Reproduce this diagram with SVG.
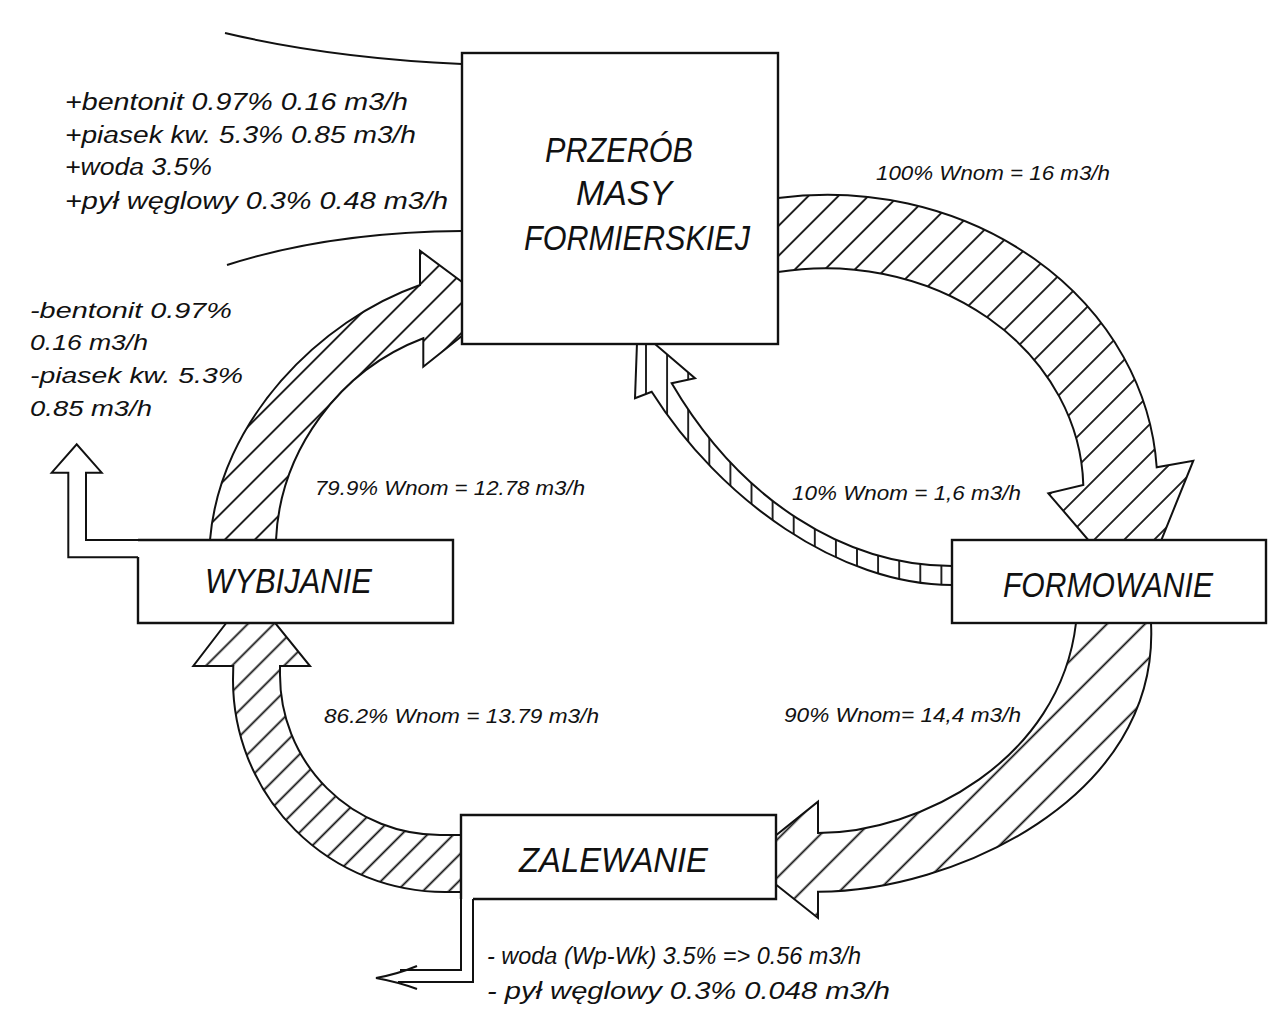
<svg xmlns="http://www.w3.org/2000/svg" width="1278" height="1024" viewBox="0 0 1278 1024">
<style>
  .ln{fill:none;stroke:#111;stroke-width:2;stroke-linejoin:miter}
  .arr{stroke:#111;stroke-width:2;stroke-linejoin:miter}
  .box{fill:#fff;stroke:#111;stroke-width:2.4;stroke-linejoin:miter}
  .hl{stroke:#111;stroke-width:1.8}
  text{font-family:"Liberation Sans",Arial,sans-serif;font-style:italic;fill:#111}
  .node{font-size:35px}
  .lst{font-size:23px}
  .lst2{font-size:22px}
  .lbl{font-size:19.5px}
</style>
<defs>
  <pattern id="hA" patternUnits="userSpaceOnUse" width="21.2" height="20" patternTransform="rotate(45)"><line class="hl" x1="10.6" y1="-2" x2="10.6" y2="22"/></pattern>
  <pattern id="hB" patternUnits="userSpaceOnUse" x="635.45" y="0" width="21.1" height="20"><line class="hl" x1="10.55" y1="-2" x2="10.55" y2="22"/></pattern>
  <pattern id="hC" patternUnits="userSpaceOnUse" width="26.9" height="20" patternTransform="rotate(45)"><line class="hl" x1="13.45" y1="-2" x2="13.45" y2="22"/></pattern>
  <pattern id="hD" patternUnits="userSpaceOnUse" width="18.4" height="20" patternTransform="rotate(45)"><line class="hl" x1="9.2" y1="-2" x2="9.2" y2="22"/></pattern>
  <pattern id="hE" patternUnits="userSpaceOnUse" width="21.2" height="20" patternTransform="rotate(45)"><line class="hl" x1="10.6" y1="-2" x2="10.6" y2="22"/></pattern>
</defs>
<rect x="0" y="0" width="1278" height="1024" fill="#fff"/>

<g id="connectors">
  <!-- inputs into PRZEROB -->
  <path class="ln" d="M225,33 Q330,58 462,64"/>
  <path class="ln" d="M227,265 Q330,232 462,231"/>
  <!-- 100% PRZEROB -> FORMOWANIE -->
  <path id="c-100" class="arr" fill="url(#hA)" d="M770,198 L778,198 A330,290 0 0 1 1156.7,467.3 L1193.3,460.7 L1138,598 L1048.3,493.3 L1083.3,485 A258,222 0 0 0 778,272 L770,272 Z"/>
  <!-- 10% FORMOWANIE -> PRZEROB -->
  <path id="c-10" class="arr" fill="url(#hB)" d="M960,585 L952,585 C840,585 720,500 651.7,391.7 L635,398.3 L637.5,329 L695,378.3 L671.7,383.3 C740,500 845,566 952,566 L960,566 Z"/>
  <!-- 90% FORMOWANIE -> ZALEWANIE -->
  <path id="c-90" class="arr" fill="url(#hC)" d="M1151,615 L1151,623 C1160,800 950,892 818,891.7 L818,918 L745,860 L818,801.7 L818,833 C920,833 1060,760 1076,623 L1076,615 Z"/>
  <!-- 86.2% ZALEWANIE -> WYBIJANIE -->
  <path id="c-862" class="arr" fill="url(#hD)" d="M470,892 L445,892 A212,212 0 0 1 233,680 L233.3,666 L193.3,666 L250,592 L310,666 L280,666 L280,675 A160,160 0 0 0 440,835 L470,835 Z"/>
  <!-- 79.9% WYBIJANIE -> PRZEROB -->
  <path id="c-799" class="arr" fill="url(#hE)" d="M210,548 L210,540 C220,420 320,320 420,285 L420,250.7 L497,308 L423.3,366.7 L423.3,338.3 C340,370 280,450 276,540 L276,548 Z"/>
  <!-- WYBIJANIE exit -->
  <path class="ln" d="M138,540 H86 V472.7 H101.7 L76.7,444.3 L51.7,472.7 H68.3 V557.3 H138"/>
  <!-- ZALEWANIE exit -->
  <path class="ln" d="M461,899 V970 H400"/>
  <path class="ln" d="M473,899 V982 H398"/>
  <path class="ln" d="M417,966 Q398,974 376,978 Q398,982 417,989"/>
</g>

<g id="node-przerob">
  <rect class="box" x="462" y="53" width="316" height="291"/>
  <text class="node" x="545" y="162" textLength="148" lengthAdjust="spacingAndGlyphs">PRZERÓB</text>
  <text class="node" x="576" y="205" textLength="96" lengthAdjust="spacingAndGlyphs">MASY</text>
  <text class="node" x="524" y="250" textLength="226" lengthAdjust="spacingAndGlyphs">FORMIERSKIEJ</text>
</g>
<g id="node-formowanie">
  <rect class="box" x="952" y="540" width="314" height="83"/>
  <text class="node" x="1003" y="597" textLength="210" lengthAdjust="spacingAndGlyphs">FORMOWANIE</text>
</g>
<g id="node-wybijanie">
  <path class="box" d="M138,557 V623 H453 V540 H138"/>
  <text class="node" x="205" y="593" textLength="167" lengthAdjust="spacingAndGlyphs">WYBIJANIE</text>
</g>
<g id="node-zalewanie">
  <path class="box" d="M473,899 H776 V815 H461 V899"/>
  <text class="node" x="519" y="872" textLength="189" lengthAdjust="spacingAndGlyphs">ZALEWANIE</text>
</g>

<g id="labels">
  <text class="lst" x="65" y="110" textLength="343" lengthAdjust="spacingAndGlyphs">+bentonit 0.97% 0.16 m3/h</text>
  <text class="lst" x="65" y="143" textLength="351" lengthAdjust="spacingAndGlyphs">+piasek kw. 5.3% 0.85 m3/h</text>
  <text class="lst" x="65" y="175" textLength="147" lengthAdjust="spacingAndGlyphs">+woda 3.5%</text>
  <text class="lst" x="65" y="209" textLength="383" lengthAdjust="spacingAndGlyphs">+pył węglowy 0.3% 0.48 m3/h</text>

  <text class="lst2" x="30" y="318" textLength="202" lengthAdjust="spacingAndGlyphs">-bentonit 0.97%</text>
  <text class="lst2" x="30" y="350" textLength="118" lengthAdjust="spacingAndGlyphs">0.16 m3/h</text>
  <text class="lst2" x="30" y="383" textLength="213" lengthAdjust="spacingAndGlyphs">-piasek kw. 5.3%</text>
  <text class="lst2" x="30" y="416" textLength="122" lengthAdjust="spacingAndGlyphs">0.85 m3/h</text>

  <text class="lbl" x="876" y="180" textLength="234" lengthAdjust="spacingAndGlyphs">100% Wnom = 16 m3/h</text>
  <text class="lbl" x="792" y="500" textLength="229" lengthAdjust="spacingAndGlyphs">10% Wnom = 1,6 m3/h</text>
  <text class="lbl" x="315" y="495" textLength="270" lengthAdjust="spacingAndGlyphs">79.9% Wnom = 12.78 m3/h</text>
  <text class="lbl" x="324" y="723" textLength="275" lengthAdjust="spacingAndGlyphs">86.2% Wnom = 13.79 m3/h</text>
  <text class="lbl" x="784" y="722" textLength="237" lengthAdjust="spacingAndGlyphs">90% Wnom= 14,4 m3/h</text>

  <text class="lst" x="487" y="964" textLength="374" lengthAdjust="spacingAndGlyphs">- woda (Wp-Wk) 3.5% =&gt; 0.56 m3/h</text>
  <text class="lst" x="487" y="999" textLength="403" lengthAdjust="spacingAndGlyphs">- pył węglowy 0.3% 0.048 m3/h</text>
</g>
</svg>
